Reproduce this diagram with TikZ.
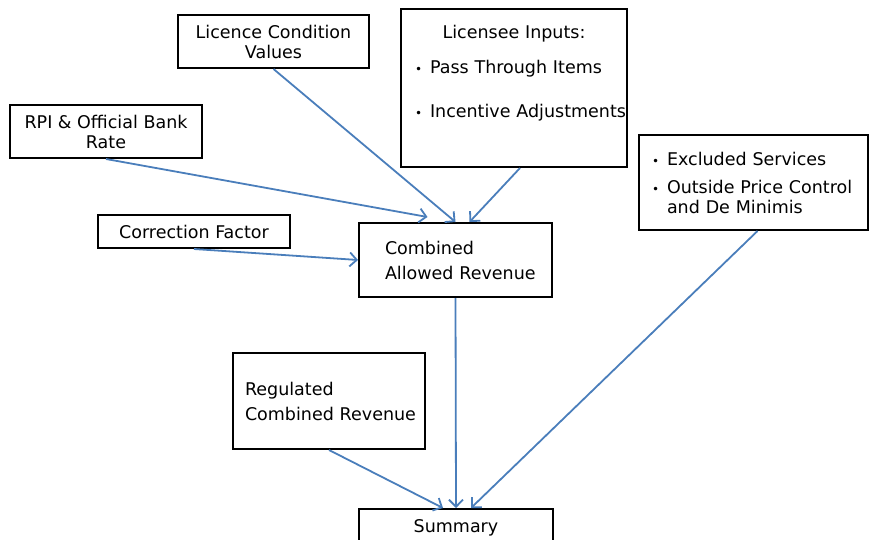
\documentclass[tikz,border=0pt]{standalone}
\usepackage{fontspec}
\setmainfont{DejaVu Sans}
\usetikzlibrary{arrows.meta, positioning}
\definecolor{flowblue}{RGB}{74,126,187}
\newcommand{\bul}{\makebox[15pt][l]{\fontsize{12}{12}\selectfont\textbullet}}

\begin{document}
\begin{tikzpicture}[x=1pt, y=-1pt,
  box/.style={draw, line width=2pt, inner sep=0pt, font=\fontsize{17.5}{20}\selectfont},
  flow/.style={draw=flowblue, line width=1.8pt, -{Straight Barb[length=7pt,width=14pt]}}]
\useasboundingbox (0,0) rectangle (869,540);
\node[box, minimum width=191pt, minimum height=53pt, align=center] (licence) at (273.5,41.5) {Licence Condition\\Values};
\node[box, minimum width=226pt, minimum height=158pt, inner xsep=14pt, text width=198pt, align=left] (inputs) at (514,88)
  {\makebox[198pt]{Licensee Inputs:}\\[15pt]\bul Pass Through Items\\[24pt]\bul \mbox{Incentive Adjustments}\\[14pt]\mbox{}};
\node[box, minimum width=192pt, minimum height=53pt, align=center] (rpi) at (106,131.5) {RPI \& Official Bank\\Rate};
\node[box, minimum width=192pt, minimum height=33pt] (correction) at (194,231.5) {Correction Factor};
\node[box, minimum width=193pt, minimum height=74pt, inner xsep=26pt, text width=141pt, align=left] (allowed) at (455.5,260)
  {Combined\\[5pt]\mbox{Allowed Revenue}};
\node[box, minimum width=229pt, minimum height=95pt, inner xsep=13pt, text width=203pt, align=left] (excluded) at (753.5,182.5)
  {\bul Excluded Services\\[8pt]\bul Outside Price Control\\\hspace*{15pt}and De Minimis};
\node[box, minimum width=192pt, minimum height=96pt, inner xsep=12pt, text width=168pt, align=left] (regulated) at (329,401)
  {Regulated\\[5pt]\mbox{Combined Revenue}};
\node[box, minimum width=194pt, minimum height=38pt] (summary) at (456,528) {Summary};

\draw[flow] (licence.south) -- (allowed.north);
\draw[flow] ([xshift=6pt]inputs.south) -- ([xshift=14pt]allowed.north);
\draw[flow] (rpi.south) -- ([xshift=-28pt,yshift=5pt]allowed.north);
\draw[flow] (correction.south) -- (allowed.west);
\draw[flow] (allowed.south) -- (summary.north);
\draw[flow] (regulated.south) -- ([xshift=-13pt]summary.north);
\draw[flow] ([xshift=4pt]excluded.south) -- ([xshift=15pt]summary.north);
\end{tikzpicture}
\end{document}
